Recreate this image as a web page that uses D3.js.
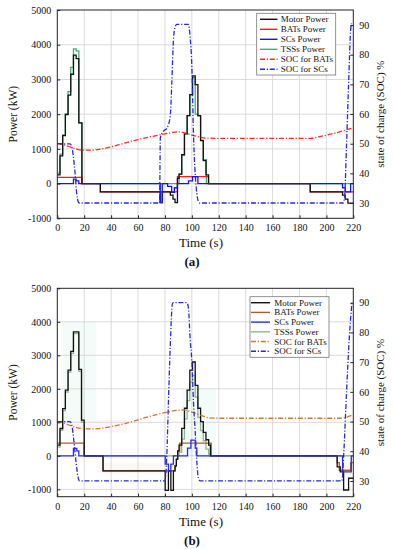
<!DOCTYPE html>
<html>
<head>
<meta charset="utf-8">
<script src="https://cdn.jsdelivr.net/npm/d3@7"></script>
<style>
  body { margin: 0; background: #fff; }
  text { font-family: "Liberation Serif", "Times New Roman", serif; fill: #111; }
</style>
</head>
<body>
<script>
// ---- shared ticks and legend
const timeTicks = [0, 20, 40, 60, 80, 100, 120, 140, 160, 180, 200, 220];
const powerTicks = [-1000, 0, 1000, 2000, 3000, 4000, 5000];
const socTicks = [30, 40, 50, 60, 70, 80, 90];
const legendNames = ['Motor Power', 'BATs Power', 'SCs Power', 'TSSs Power', 'SOC for BATs', 'SOC for SCs'];

// ---- panel (a) : [time s, power kW] steps, [time s, SOC %] curves
const motorA = [[0,250],[2,800],[4,1380],[6,1990],[8,2550],[10,3150],[12,3700],[14,3600],[16,1750],[18.3,0],
  [32,-240],[76.5,-550],[78,-240],[84,-330],[86,-450],[87.5,-550],[89.3,150],[90.5,270],[92.5,830],[94.5,1430],
  [96.5,1960],[98.5,2560],[100.5,3100],[102.5,2850],[104.5,1960],[106.5,1240],[108.5,660],[110.5,250],[112.4,0],
  [188,-240],[212,-330],[214,-450],[216,-560],[220,-560]];
const batA = [[0,180],[18.3,0],[32,-240],[89.3,200],[112.4,0],[188,-240],[220,-240]];
const scA = [[0,0],[12,130],[14,80],[16,0],[76.5,-550],[78,0],[82,-80],[85,-250],[87,-120],[89.3,0],
  [97.5,80],[100.5,200],[104.5,0],[212,-120],[214,-240],[218,0],[220,0]];
const tssA = [[0,300],[2,850],[4,1400],[6,2000],[8,2650],[10,3350],[12,3880],[14,3820],[16,1750],[18.3,0],
  [89.3,0],[90.5,270],[92.5,830],[94.5,1430],[96.5,1960],[98.5,2560],[100.5,3050],[102.5,2000],[104.5,1950],
  [106.5,1250],[108.5,690],[110.8,0],[220,0]];
const socBatA = [[0,50],[5,49.6],[10,48.8],[15,48.1],[20,47.8],[25,47.8],[30,48],[40,48.9],[50,50.2],[60,51.4],
  [70,52.4],[80,53.3],[90,54],[95,53.6],[100,52.9],[105,52.3],[110,51.9],[120,51.8],[188,51.8],[195,52.4],
  [205,53.4],[215,54.7],[220,55.4]];
const socScA = [[0,50],[9.4,49.9],[10.7,49.1],[11.9,45.7],[13.2,40.1],[14.4,33.3],[15.6,30.4],[16.5,30],[76,30],
  [76.6,52],[78.9,54.2],[81.4,55.2],[83.9,59.1],[85.1,70.3],[86.3,84.8],[87.6,89.4],[88.8,90.2],[97.5,90.2],
  [98.7,86],[100,76],[101.2,53.5],[103.2,35.5],[105,30.4],[106,30],[212.5,30],[213.5,32],[215,50],[216.5,70],
  [218,88],[218.6,90.5]];

// ---- panel (b)
const motorB = [[0,318],[2,816],[4,1410],[6,1960],[8,2560],[10,3120],[12,3700],[16,2580],[18,1065],[20,0],
  [34,-450],[80.2,-1030],[82.6,-450],[84.4,-1030],[86.3,-450],[87.5,-300],[88.5,-100],[89.5,150],[90.5,320],
  [92.5,820],[94.5,1420],[96.5,1960],[98.5,2560],[100.5,2800],[102.5,2100],[104.5,1420],[106.5,1020],[108.5,700],
  [110.5,480],[112.5,320],[113.8,0],[208,-330],[210.3,-480],[212.8,-1020],[216.5,-670],[220,-670]];
const batB = [[0,380],[20,0],[34,-450],[87.5,-300],[88.5,-100],[89.5,150],[91,380],[114.4,0],[208,-200],
  [209.6,-430],[218,-200],[220,-200]];
const scB = [[0,0],[12,220],[14.5,150],[16,0],[80.2,-250],[82.6,-450],[84.4,-250],[86.3,0],[96.8,230],
  [99.3,470],[102.5,230],[103.7,0],[212,-480],[218.5,0],[220,0]];
const tssB = [[0,260],[2,760],[4,1350],[6,1900],[8,2500],[10,3060],[12,3650],[16,2520],[18,1000],[20,0],
  [90.5,100],[92.5,500],[94.5,1100],[96.5,1650],[98.5,2200],[100.5,2400],[102.5,1750],[104.5,1150],[106.5,750],
  [108.5,450],[110.5,200],[112.5,50],[113.8,0],[220,0]];
const socBatB = [[0,50],[5,49.5],[10,48.6],[15,47.9],[20,47.6],[25,47.5],[30,47.6],[40,48.3],[50,49.3],[60,50.6],
  [70,51.9],[80,53],[90,53.8],[94,53.9],[100,53.2],[106,52.2],[112,51.3],[120,51.1],[210,51.1],[215,51.5],[220,52.3]];
const socScB = [[0,50],[9.4,50],[10.7,48.9],[12.4,43.2],[13.9,36.5],[15.6,30.9],[16.4,30],[80.1,30],[81.4,38.7],
  [82.6,56.7],[83.9,74.7],[85.6,89.8],[86.3,90],[96.3,90],[97.5,88.2],[98.7,78],[100,70.2],[101.2,56.7],
  [102.5,46.6],[103.7,36.5],[104.9,30.9],[106.2,30],[211.6,30],[213,40],[215,60],[217,78],[219,90]];
// faint shaded areas seen in (b): [t0, t1, kW low, kW high]
const shadeMintB = [[4, 29, 1000, 4000], [93, 118, 0, 2000]];
const shadePinkB = [[30, 78, -520, -220], [2, 52, 700, 1070]];

const svg = d3.select('body').append('svg').attr('width', 393).attr('height', 550);

const drawPanel = (p) => {
  const x = d3.scaleLinear().domain([0, 220]).range([57.3, 353.3]);
  const y = d3.scaleLinear().domain([p.yMin, 5000]).range([p.bottom, p.top]);
  const yR = d3.scaleLinear().domain(p.socDomain).range([p.bottom, p.top]);
  const g = svg.append('g');

  // faint shading
  const shades = [...(p.mint || []).map((d) => [d, '#f4fcfa']), ...(p.pink || []).map((d) => [d, '#fef5f6'])];
  g.append('g').selectAll('rect').data(shades).enter().append('rect')
    .attr('x', (d) => x(d[0][0])).attr('width', (d) => x(d[0][1]) - x(d[0][0]))
    .attr('y', (d) => y(d[0][3])).attr('height', (d) => y(d[0][2]) - y(d[0][3]))
    .attr('fill', (d) => d[1]);

  // grid
  g.append('g').selectAll('line').data(timeTicks.slice(1, -1)).enter().append('line')
    .attr('x1', (d) => x(d)).attr('x2', (d) => x(d)).attr('y1', p.top).attr('y2', p.bottom)
    .attr('stroke', '#d6d6d6').attr('stroke-width', 0.9);
  g.append('g').selectAll('line').data(powerTicks.filter((d) => d > p.yMin && d < 5000)).enter().append('line')
    .attr('x1', 57.3).attr('x2', 353.3).attr('y1', (d) => y(d)).attr('y2', (d) => y(d))
    .attr('stroke', '#d6d6d6').attr('stroke-width', 0.9);

  const step = d3.line().x((d) => x(d[0])).y((d) => y(d[1])).curve(d3.curveStepAfter);
  const smooth = d3.line().x((d) => x(d[0])).y((d) => yR(d[1])).curve(d3.curveMonotoneX);

  const series = [
    { data: p.tss, gen: step, color: p.colors[3], dash: null },
    { data: p.bat, gen: step, color: p.colors[1], dash: null },
    { data: p.motor, gen: step, color: p.colors[0], dash: null },
    { data: p.sc, gen: step, color: p.colors[2], dash: null },
    { data: p.socBat, gen: smooth, color: p.colors[4], dash: '5,1.8,1.2,1.8' },
    { data: p.socSc, gen: smooth, color: p.colors[5], dash: '5,1.8,1.2,1.8' }
  ];
  series.forEach((s) => {
    g.append('path').attr('d', s.gen(s.data)).attr('fill', 'none')
      .attr('stroke', s.color).attr('stroke-width', 1.3)
      .attr('stroke-dasharray', s.dash);
  });

  // frame
  g.append('rect').attr('x', 57.3).attr('y', p.top).attr('width', 296).attr('height', p.bottom - p.top)
    .attr('fill', 'none').attr('stroke', '#222').attr('stroke-width', 1);

  // axes
  const fmt = (d) => String(d);
  const xAxis = d3.axisBottom(x).tickValues(timeTicks).tickFormat(fmt).tickSize(-3).tickPadding(6);
  g.append('g').attr('transform', 'translate(0,' + p.bottom + ')').call(xAxis);
  const yAxis = d3.axisLeft(y).tickValues(powerTicks).tickFormat(fmt).tickSize(-3).tickPadding(6);
  g.append('g').attr('transform', 'translate(57.3,0)').call(yAxis);
  const rAxis = d3.axisRight(yR).tickValues(socTicks).tickFormat(fmt).tickSize(-3).tickPadding(6);
  g.append('g').attr('transform', 'translate(353.3,0)').call(rAxis);
  g.selectAll('.domain').remove();
  g.selectAll('.tick line').attr('stroke', '#222');
  g.selectAll('.tick text').style('font-family', '"Liberation Serif", serif').style('font-size', '10px').attr('fill', '#222');

  const mid = (p.top + p.bottom) / 2;
  g.append('text').attr('transform', 'translate(17,' + mid + ') rotate(-90)')
    .attr('text-anchor', 'middle').style('font-size', '11.5px').text('Power (kW)');
  g.append('text').attr('transform', 'translate(384,' + mid + ') rotate(-90)')
    .attr('text-anchor', 'middle').style('font-size', '11px').text('state of charge (SOC) %');
  g.append('text').attr('x', 201).attr('y', p.bottom + 29)
    .attr('text-anchor', 'middle').style('font-size', '13px').text('Time (s)');
  g.append('text').attr('x', 192).attr('y', p.bottom + 48)
    .attr('text-anchor', 'middle').style('font-size', '13px').style('font-weight', 'bold').text(p.label);

  // legend
  const L = p.legend;
  const lg = g.append('g');
  lg.append('rect').attr('x', L.x).attr('y', L.y).attr('width', L.w).attr('height', L.h)
    .attr('fill', '#fff').attr('stroke', '#777').attr('stroke-width', 0.8);
  legendNames.forEach((name, i) => {
    const cy = L.y + L.first + i * L.gap;
    lg.append('line').attr('x1', L.lx1).attr('x2', L.lx2).attr('y1', cy).attr('y2', cy)
      .attr('stroke', p.colors[i]).attr('stroke-width', 1.4)
      .attr('stroke-dasharray', i >= 4 ? '5,1.8,1.2,1.8' : null);
    lg.append('text').attr('x', L.tx).attr('y', cy + 3).style('font-size', '9px').text(name);
  });
};

drawPanel({
  top: 10, bottom: 218.3, yMin: -1000, socDomain: [24.85, 95.05], label: '(a)',
  motor: motorA, bat: batA, sc: scA, tss: tssA, socBat: socBatA, socSc: socScA,
  colors: ['#111111', '#ff1a1a', '#1414ee', '#3cb371', '#ff2a2a', '#2a2ad0'],
  legend: { x: 256.7, y: 13.3, w: 79, h: 61.7, first: 6, gap: 10, lx1: 260, lx2: 277.5, tx: 280.7 }
});
drawPanel({
  top: 288.3, bottom: 496.7, yMin: -1220, socDomain: [24.7, 94.85], label: '(b)',
  motor: motorB, bat: batB, sc: scB, tss: tssB, socBat: socBatB, socSc: socScB,
  mint: shadeMintB, pink: shadePinkB,
  colors: ['#111111', '#a8602a', '#2a2aee', '#8fb88f', '#c87a34', '#2a2ad0'],
  legend: { x: 250, y: 296.7, w: 79, h: 60.6, first: 6, gap: 9.7, lx1: 251, lx2: 270, tx: 274.3 }
});
</script>
</body>
</html>
